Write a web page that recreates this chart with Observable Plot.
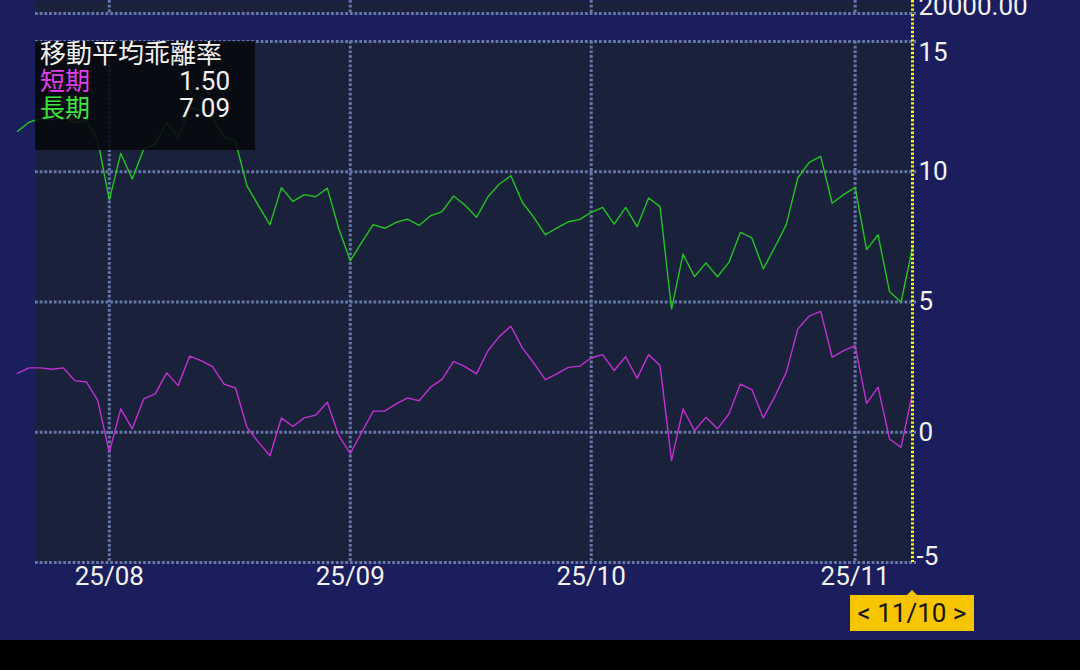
<!DOCTYPE html>
<html>
<head>
<meta charset="utf-8">
<script src="https://cdn.jsdelivr.net/npm/d3@7"></script>
<script src="https://cdn.jsdelivr.net/npm/@observablehq/plot@0.6"></script>
<style>
  html, body { margin: 0; padding: 0; background: #000; }
  #wrap { position: relative; width: 1080px; height: 640px; background: #1a1e5c; overflow: hidden;
          font-family: Roboto, "Noto Sans CJK JP", sans-serif; }
  #wrap svg { position: absolute; left: 0; }
  .legend { position: absolute; background: rgba(6, 8, 12, 0.88); box-sizing: border-box;
            padding: 0 25px 0 5px; color: #f2f2f2; font-size: 25px; }
  .legend .title { height: 27px; line-height: 27px; font-size: 26px; white-space: nowrap; }
  .legend .row { display: flex; justify-content: space-between; height: 27px; line-height: 27px; }
  .legend .row .v { font-size: 26px; }
  .cursor { position: absolute; background: #f7c400; color: #151515; font-size: 26px;
            text-align: center; line-height: 36px; height: 36px; width: 124px; }
  .cursor::before { content: ""; position: absolute; left: 50%; top: -5px; margin-left: -5px;
            border-left: 5px solid transparent; border-right: 5px solid transparent; border-bottom: 5px solid #f7c400; }
</style>
</head>
<body>
<div id="wrap"></div>
<script>
// ---- data ----
const dates = [
  "2025-07-22","2025-07-23","2025-07-24","2025-07-25","2025-07-28","2025-07-29","2025-07-30","2025-07-31",
  "2025-08-01","2025-08-04","2025-08-05","2025-08-06","2025-08-07","2025-08-08","2025-08-11","2025-08-12",
  "2025-08-13","2025-08-14","2025-08-15","2025-08-18","2025-08-19","2025-08-20","2025-08-21","2025-08-22",
  "2025-08-25","2025-08-26","2025-08-27","2025-08-28","2025-08-29",
  "2025-09-02","2025-09-03","2025-09-04","2025-09-05","2025-09-08","2025-09-09","2025-09-10","2025-09-11",
  "2025-09-12","2025-09-15","2025-09-16","2025-09-17","2025-09-18","2025-09-19","2025-09-22","2025-09-23",
  "2025-09-24","2025-09-25","2025-09-26","2025-09-29","2025-09-30",
  "2025-10-01","2025-10-02","2025-10-03","2025-10-06","2025-10-07","2025-10-08","2025-10-09","2025-10-10",
  "2025-10-13","2025-10-14","2025-10-15","2025-10-16","2025-10-17","2025-10-20","2025-10-21","2025-10-22",
  "2025-10-23","2025-10-24","2025-10-27","2025-10-28","2025-10-29","2025-10-30","2025-10-31",
  "2025-11-03","2025-11-04","2025-11-05","2025-11-06","2025-11-07","2025-11-10"
];
const shortTerm = [
  2.26, 2.47, 2.47, 2.42, 2.47, 1.98, 1.93, 1.21, -0.77, 0.90,
  0.13, 1.28, 1.47, 2.28, 1.79, 2.92, 2.75, 2.52, 1.85, 1.70,
  0.19, -0.38, -0.90, 0.55, 0.22, 0.55, 0.66, 1.15, -0.13, -0.81,
  0.00, 0.81, 0.81, 1.09, 1.32, 1.21, 1.73, 2.03, 2.72, 2.52,
  2.24, 3.13, 3.68, 4.07, 3.24, 2.65, 2.02, 2.24, 2.49, 2.54,
  2.85, 2.98, 2.37, 2.90, 2.07, 2.98, 2.56, -1.09, 0.90, 0.06,
  0.58, 0.13, 0.70, 1.85, 1.64, 0.55, 1.37, 2.30, 3.96, 4.46,
  4.64, 2.88, 3.13, 3.32, 1.11, 1.73, -0.26, -0.58, 1.50
];
const longTerm = [
  11.55, 11.90, 12.05, 12.00, 12.10, 11.90, 11.95, 11.19, 8.91, 10.70,
  9.72, 10.87, 11.06, 11.89, 11.32, 12.47, 12.35, 12.08, 11.34, 11.16,
  9.46, 8.70, 7.96, 9.39, 8.86, 9.12, 9.04, 9.37, 7.81, 6.58,
  7.29, 7.97, 7.83, 8.06, 8.18, 7.94, 8.31, 8.47, 9.07, 8.72,
  8.25, 9.04, 9.53, 9.85, 8.82, 8.25, 7.58, 7.84, 8.08, 8.17,
  8.44, 8.63, 7.99, 8.63, 7.89, 8.99, 8.66, 4.73, 6.84, 5.97,
  6.50, 5.97, 6.52, 7.67, 7.46, 6.27, 7.10, 7.97, 9.76, 10.36,
  10.59, 8.79, 9.12, 9.40, 7.01, 7.58, 5.40, 4.99, 7.09
];
const tickDates = ["2025-08-01", "2025-09-02", "2025-10-01", "2025-11-03"];
const tickLabels = ["25/08", "25/09", "25/10", "25/11"];
const yTicks = [15, 10, 5, 0, -5];
const priceTicks = [20000];
const legendTitle = "移動平均乖離率";
const seriesNames = ["短期", "長期"];
const cursorDate = "2025-11-10";
const cursorLabel = "< 11/10 >";

// ---- build ----
const n = dates.length;
const rows = dates.map((d, i) => ({i, short: shortTerm[i], long: longTerm[i]}));
const tickIdx = tickDates.map(d => dates.indexOf(d));
const cursor = dates.indexOf(cursorDate);
const yMin = d3.min(yTicks), yMax = d3.max(yTicks);

const grid = {stroke: "#6676a8", strokeWidth: 3, strokeDasharray: "2.8,1.9"};
const yellow = {stroke: "#f4f410", strokeWidth: 3, strokeDasharray: "2.4,1.8"};
const panel = "#19223a";
const labelStyle = {fill: "#f2f2f6", fontSize: 26, fontFamily: "Roboto, sans-serif"};
const common = {width: 1080, marginLeft: 17, marginRight: 168,
  x: {domain: [0, n - 1], axis: null},
  style: {background: "transparent", overflow: "visible"}};

const topPlot = Plot.plot({
  ...common, height: 14, marginTop: 0, marginBottom: 1,
  y: {domain: [priceTicks[0], priceTicks[0] + 1000], axis: null},
  marks: [
    Plot.frame({fill: panel, stroke: "none", insetLeft: 18}),
    Plot.ruleX(tickIdx, grid),
    Plot.ruleY(priceTicks, {...grid, insetLeft: 18, insetRight: -4}),
    Plot.ruleX([cursor], yellow),
    Plot.text(priceTicks, {y: d => d, text: d => d3.format(".2f")(d), frameAnchor: "right",
      textAnchor: "start", lineAnchor: "bottom", dx: 6, dy: 1, ...labelStyle})
  ]
});

const mainPlot = Plot.plot({
  ...common, height: 626, marginTop: 27, marginBottom: 78,
  y: {domain: [yMin, yMax], axis: null},
  marks: [
    Plot.frame({fill: panel, stroke: "none", insetLeft: 18}),
    Plot.ruleY(yTicks, {...grid, insetLeft: 18, insetRight: -4}),
    Plot.ruleX(tickIdx, grid),
    Plot.line(rows, {x: "i", y: "long", stroke: "#22c322", strokeWidth: 1.4}),
    Plot.line(rows, {x: "i", y: "short", stroke: "#c22fd2", strokeWidth: 1.4}),
    Plot.ruleX([cursor], {...yellow, insetTop: -27}),
    Plot.text(yTicks.filter(v => v === yMax), {y: d => d, text: d => String(d), frameAnchor: "right",
      textAnchor: "start", lineAnchor: "top", dx: 6, dy: 1, ...labelStyle}),
    Plot.text(yTicks.filter(v => v !== yMax && v !== yMin), {y: d => d, text: d => String(d), frameAnchor: "right",
      textAnchor: "start", lineAnchor: "middle", dx: 6, ...labelStyle}),
    Plot.text(yTicks.filter(v => v === yMin), {y: d => d, text: d => String(d), frameAnchor: "right",
      textAnchor: "start", lineAnchor: "bottom", dx: 4, dy: 2, ...labelStyle}),
    Plot.text(tickIdx, {x: d => d, text: (d, k) => tickLabels[k], frameAnchor: "bottom",
      lineAnchor: "top", dy: 4, ...labelStyle})
  ]
});

const wrap = document.getElementById("wrap");
topPlot.style.top = "0px";
mainPlot.style.top = "14px";
wrap.appendChild(topPlot);
wrap.appendChild(mainPlot);

// legend overlay, placed from the plot's own scales
const xs = mainPlot.scale("x"), ys = mainPlot.scale("y");
const panelLeft = xs.range[0] + 18;
const panelTop = 14 + ys.apply(yMax);
const legend = document.createElement("div");
legend.className = "legend";
legend.style.left = panelLeft + "px";
legend.style.top = panelTop + "px";
legend.style.width = "220px";
legend.style.height = "109px";
const colors = ["#e23ef0", "#3ee43e"];
const lastVals = [shortTerm[cursor], longTerm[cursor]];
legend.innerHTML = `<div class="title">${legendTitle}</div>` +
  seriesNames.map((s, k) => `<div class="row"><span style="color:${colors[k]}">${s}</span><span class="v">${lastVals[k].toFixed(2)}</span></div>`).join("");
wrap.appendChild(legend);

// cursor date label
const cx = xs.apply(cursor);
const cur = document.createElement("div");
cur.className = "cursor";
cur.textContent = cursorLabel;
cur.style.left = (cx - 62) + "px";
cur.style.top = (14 + ys.apply(yMin) + 33) + "px";
wrap.appendChild(cur);
</script>
</body>
</html>
